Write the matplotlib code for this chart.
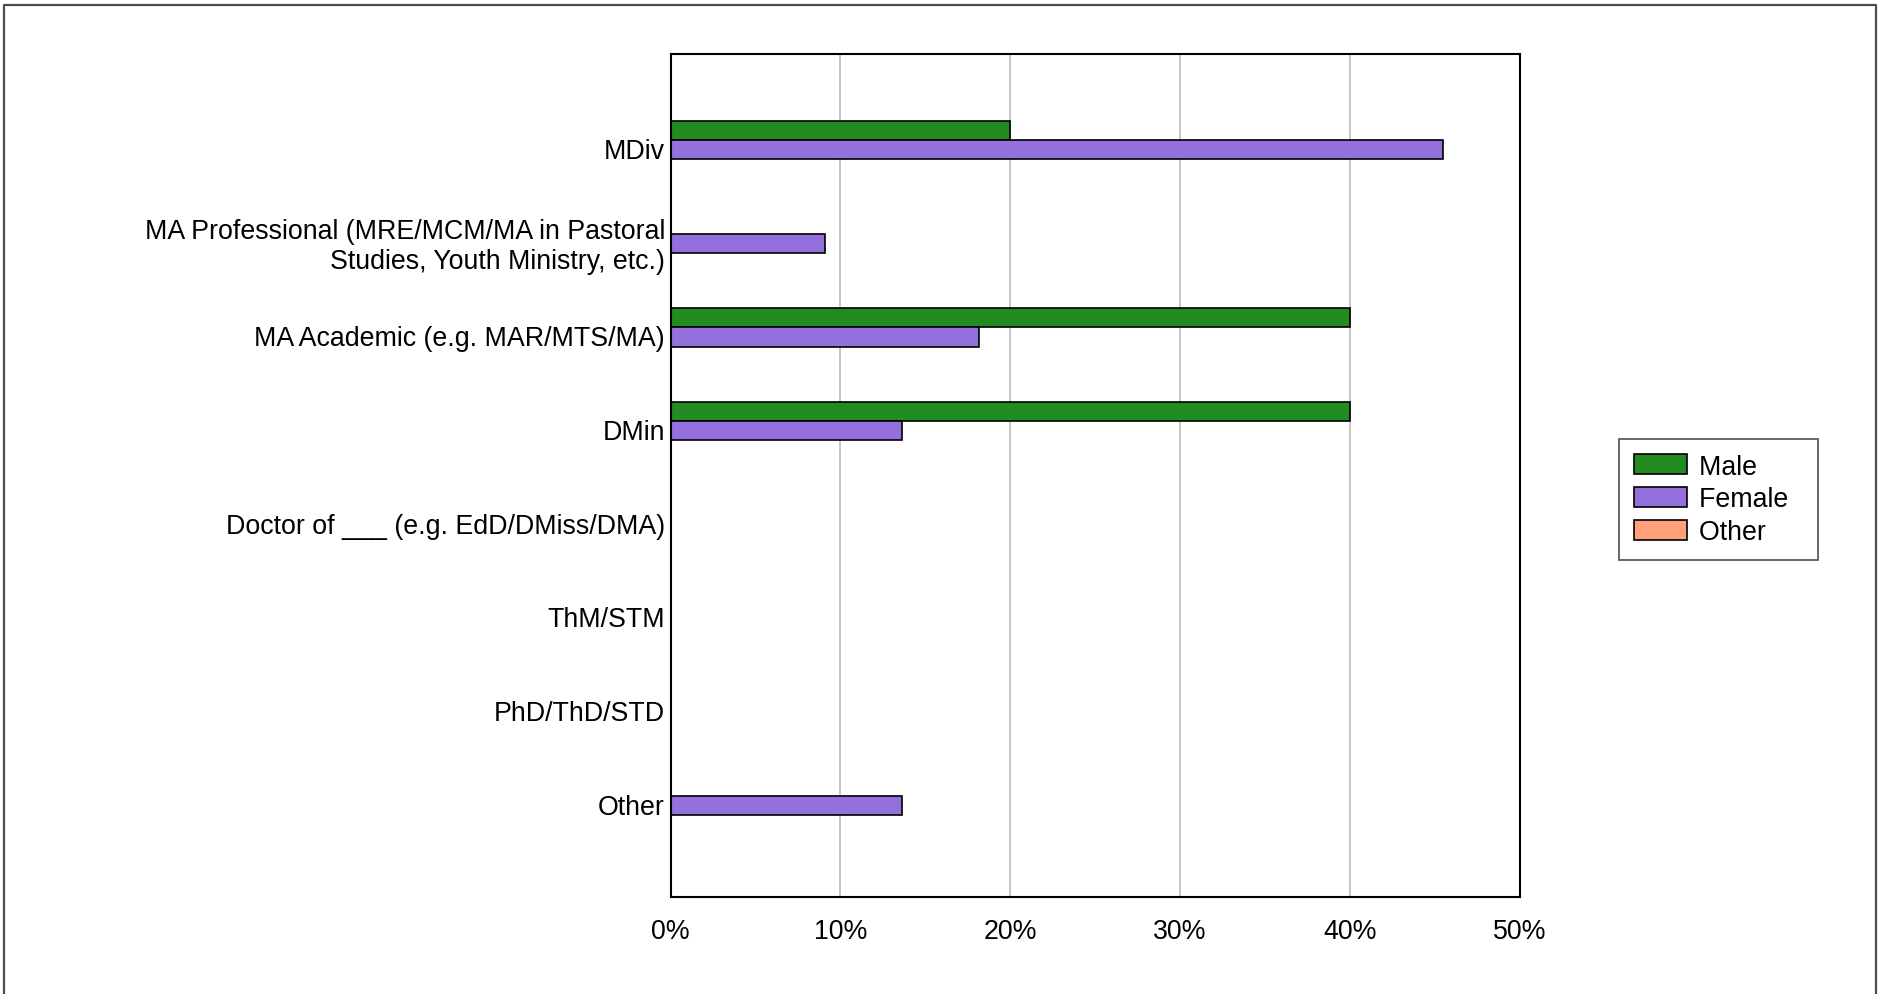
import matplotlib
matplotlib.use("Agg")
import matplotlib.pyplot as plt
import numpy as np
from matplotlib.lines import Line2D

plt.rcParams['font.family'] = ['Liberation Sans', 'DejaVu Sans']

# data (share of respondents per degree, by gender)
categories = ['MDiv',
              'MA Professional (MRE/MCM/MA in Pastoral\nStudies, Youth Ministry, etc.)',
              'MA Academic (e.g. MAR/MTS/MA)',
              'DMin',
              'Doctor of ___ (e.g. EdD/DMiss/DMA)',
              'ThM/STM',
              'PhD/ThD/STD',
              'Other']
male = [20.0, 0, 40.0, 40.0, 0, 0, 0, 0]
female = [45.45, 9.09, 18.18, 13.64, 0, 0, 0, 13.64]
other = [0, 0, 0, 0, 0, 0, 0, 0]
series_names = ['Male', 'Female', 'Other']
colors = ['#228B22', '#9370DB', '#FFA07A']
x_ticks = [0, 10, 20, 30, 40, 50]

fs = 19.25

fig = plt.figure(figsize=(18.81, 9.95), dpi=100)
ax = fig.add_axes([0.3565, 0.097, 0.4515, 0.8477])

y = np.arange(len(categories))
h = 0.205
for i, (vals, name, c) in enumerate(zip([male, female, other], series_names, colors)):
    ax.barh(y + (i - 1) * h + 0.02, vals, height=h, color=c, edgecolor='black',
            linewidth=1.2, label=name, zorder=3)

ax.set_xlim(0, 50)
ax.set_ylim(len(categories), -1)
ax.set_yticks(y)
ax.set_yticklabels(categories, fontsize=fs, ha='right', multialignment='right')
ax.set_xticks(x_ticks)
ax.set_xticklabels([f'{t}%' for t in x_ticks], fontsize=fs)
ax.tick_params(axis='both', length=0)
ax.tick_params(axis='x', pad=15)
ax.tick_params(axis='y', pad=4)
ax.grid(axis='x', color='#c0c0c0', linewidth=1.3, zorder=0)
for s in ax.spines.values():
    s.set_linewidth(1.5)
    s.set_color('black')
    s.set_zorder(4)

leg = fig.legend(loc='center', bbox_to_anchor=(0.9135, 0.497), fontsize=fs,
                 frameon=True, fancybox=False, edgecolor='#333333',
                 handlelength=2.0, handleheight=0.75, labelspacing=0.26,
                 handletextpad=0.45, borderpad=0.55)
leg.get_frame().set_linewidth(1.3)
# reference legend has extra room on the right of the labels
for t in leg.get_texts():
    t.set_text(t.get_text() + '  ')

# outer border (left, top, right)
W, H = 1881, 995
fig.add_artist(Line2D([4.5 / W, 4.5 / W, 1876.5 / W, 1876.5 / W],
                      [0, 1 - 5.5 / H, 1 - 5.5 / H, 0],
                      color='#4d4d4d', linewidth=1.6, transform=fig.transFigure))

fig.savefig('out.png', dpi=100)
